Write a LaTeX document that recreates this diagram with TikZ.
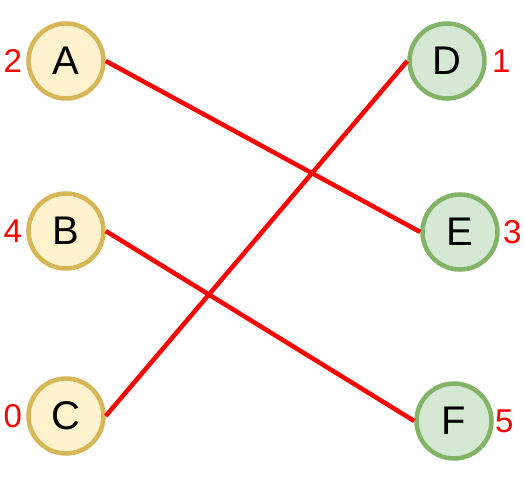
\documentclass[tikz,border=0pt]{standalone}
\usepackage{fontspec}
\setmainfont{Liberation Sans}
\usetikzlibrary{positioning}
\definecolor{yfill}{HTML}{FFF2CC}
\definecolor{ydraw}{HTML}{D6B656}
\definecolor{gfill}{HTML}{D5E8D4}
\definecolor{gdraw}{HTML}{82B366}

\begin{document}
\begin{tikzpicture}[x=1pt, y=-1pt, line width=4.5pt,
  main/.style = {draw, circle, minimum size=75pt, inner sep=0pt, font=\fontsize{40}{40}\selectfont},
  num/.style = {text=red, inner sep=0pt, font=\fontsize{33}{33}\selectfont},
  link/.style = {draw=red, line width=4.5pt}]
  \useasboundingbox (0,0) rectangle (524,481);
  % Nodes
  \node[main, fill=yfill, draw=ydraw] (A) at (66,61) {A};
  \node[main, fill=yfill, draw=ydraw] (B) at (66,231) {B};
  \node[main, fill=yfill, draw=ydraw] (C) at (66,416) {C};
  \node[main, fill=gfill, draw=gdraw] (D) at (447,61) {D};
  \node[main, fill=gfill, draw=gdraw] (E) at (460,232) {E};
  \node[main, fill=gfill, draw=gdraw] (F) at (454,421) {F};

  % Numbers
  \node[num] (nA) [left=2pt of A] {2};
  \node[num] (nB) [left=2pt of B] {4};
  \node[num] (nC) [left=2pt of C] {0};
  \node[num] (nD) [right=3pt of D] {1};
  \node[num] (nE) [right=1pt of E] {3};
  \node[num] (nF) [right=-1pt of F] {5};

  % Paths
  \draw[link] (A.east) -- (E.west);
  \draw[link] (B.east) -- (F.west);
  \draw[link] (C.east) -- (D.west);
\end{tikzpicture}
\end{document}
